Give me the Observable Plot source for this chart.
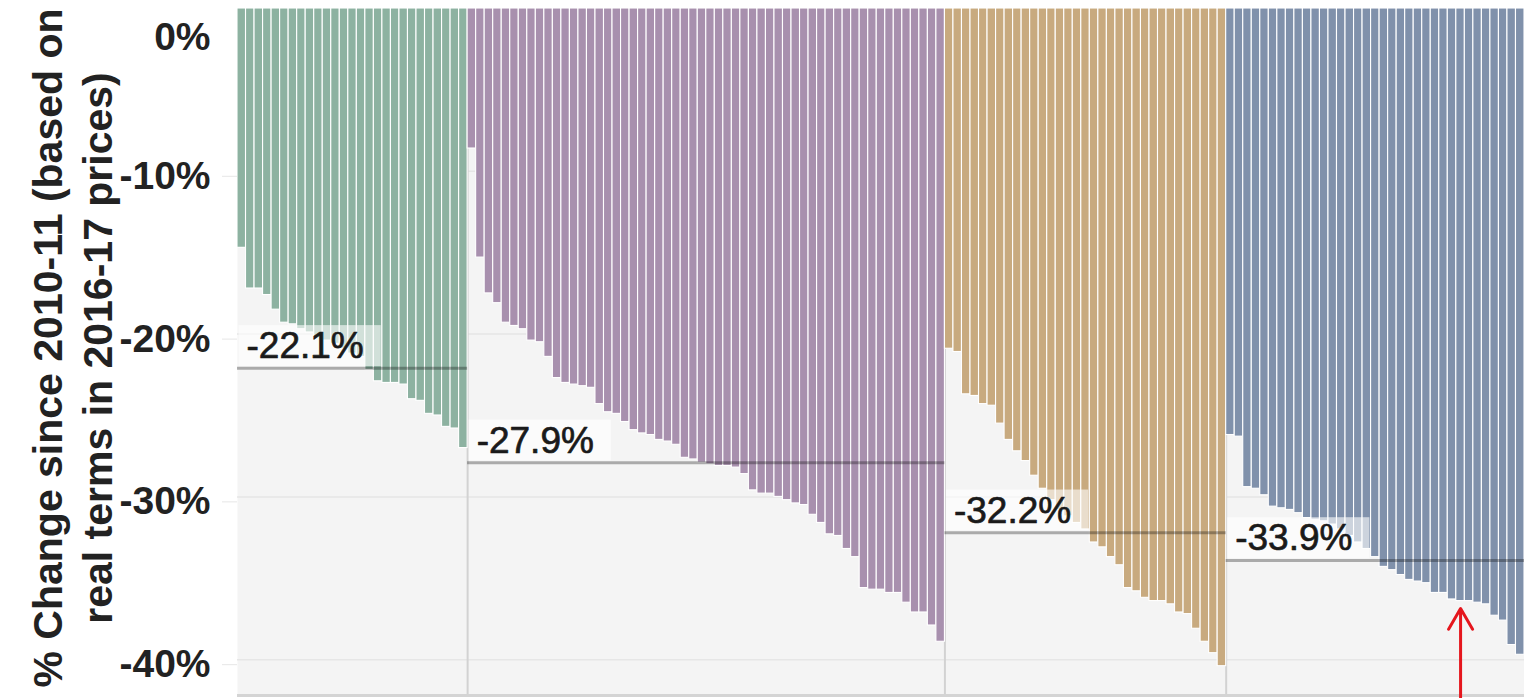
<!DOCTYPE html>
<html>
<head>
<meta charset="utf-8">
<script src="https://cdn.jsdelivr.net/npm/d3@7"></script>
<script src="https://cdn.jsdelivr.net/npm/@observablehq/plot@0.6"></script>
<style>
  html, body { margin: 0; padding: 0; background: #ffffff; overflow: hidden; }
  #chart svg { display: block; }
</style>
</head>
<body>
<div id="chart"></div>
<script>
// ---------------- data ----------------
const groupNames = ["Group 1", "Group 2", "Group 3", "Group 4"];
const groupColors = ["#8db2a1", "#a890ae", "#c8aa7f", "#8091ab"];
const groupAverages = [-22.1, -27.9, -32.2, -33.9];

const group1Values = [-14.7, -17.2, -17.2, -17.6, -18.5, -19.3, -19.4, -19.7, -19.9, -20.2, -20.4, -20.6, -20.9, -21.2,
  -21.4, -22.2, -22.9, -23.0, -23.0, -23.1, -24.0, -24.1, -24.9, -25.0, -25.7, -25.8, -27.0];
const group2Values = [-8.6, -15.3, -17.5, -18.1, -19.3, -19.5, -19.7, -20.4, -20.5, -21.4, -22.7, -23.0, -23.1, -23.2,
  -23.3, -24.3, -24.8, -24.9, -25.4, -25.9, -26.1, -26.2, -26.5, -26.6, -26.8, -27.6, -27.7, -27.9, -28.0, -28.1,
  -28.1, -28.2, -28.6, -29.6, -29.8, -29.8, -30.0, -30.2, -30.4, -30.5, -31.1, -31.6, -32.3, -32.4, -33.2, -33.7,
  -35.6, -35.7, -35.7, -35.9, -35.9, -36.5, -37.1, -37.1, -37.9, -38.9];
const group3Values = [-20.9, -21.1, -23.7, -23.8, -24.3, -24.4, -25.5, -26.5, -27.2, -27.8, -28.7, -29.5, -30.2, -30.8,
  -31.2, -31.6, -32.0, -32.8, -33.1, -33.7, -34.2, -35.6, -35.8, -36.2, -36.4, -36.4, -36.6, -37.1, -37.2, -38.1,
  -38.9, -39.6, -40.4];
const group4Values = [-26.2, -26.3, -29.4, -29.5, -29.9, -30.6, -30.7, -30.8, -31.0, -31.3, -31.4, -31.5, -31.7, -32.0,
  -32.4, -32.8, -33.2, -33.7, -34.3, -34.5, -34.8, -35.1, -35.2, -35.3, -35.9, -35.9, -36.3, -36.4, -36.4, -36.5,
  -36.6, -37.3, -37.6, -39.1, -39.7];

const yTicks = [0, -10, -20, -30, -40];
const yDomain = [-42.2, 0];
const yTitleLines = ["% Change since 2010-11 (based on", "real terms in 2016-17 prices)"];
const highlighted = {group: 3, index: 27};   // bar marked by the red arrow

// ---------------- build tables ----------------
const allValues = [group1Values, group2Values, group3Values, group4Values];
const bars = [];
const groups = [];
let cursor = 0;
allValues.forEach((vals, g) => {
  const start = cursor;
  vals.forEach((v, k) => bars.push({i: cursor + k, g, k, value: v}));
  cursor += vals.length;
  groups.push({g, name: groupNames[g], start, end: cursor, avg: groupAverages[g], color: groupColors[g]});
});
const total = cursor;
const boundaries = groups.slice(1).map(d => d.start);
const hl = bars.find(d => d.g === highlighted.group && d.k === highlighted.index);

const fmtPct = v => `${v}%`;
const fmtAvg = v => `${v.toFixed(1)}%`;
const FONT = "'Liberation Sans', Arial, Helvetica, sans-serif";

const plot = Plot.plot({
  width: 1524,
  height: 698,
  marginLeft: 237,
  marginRight: 0,
  marginTop: 8,
  marginBottom: 3,
  x: {domain: [0, total], axis: null},
  y: {domain: yDomain, axis: null, label: null},
  style: {fontFamily: FONT, background: "#ffffff", overflow: "visible"},
  marks: [
    Plot.frame({fill: "#f4f4f4", stroke: "none"}),
    Plot.ruleY(yTicks.filter(t => t !== 0), {stroke: "#e6e6e6", strokeWidth: 1.5}),
    Plot.ruleX(boundaries, {stroke: "#d2d2d2", strokeWidth: 2}),
    ...groups.map(G => Plot.rectY(bars.filter(d => d.g === G.g), {
      x1: "i", x2: d => d.i + 1, y: "value",
      fill: G.color, stroke: "#ffffff", strokeWidth: 1.1
    })),
    Plot.ruleY([yDomain[0]], {stroke: "#d4d4d4", strokeWidth: 3}),
    Plot.ruleY(groups, {y: "avg", x1: "start", x2: "end", stroke: "#000000", strokeOpacity: 0.3, strokeWidth: 3}),
    Plot.text(groups, {
      x: "start", y: "avg", text: d => fmtAvg(d.avg),
      textAnchor: "start", lineAnchor: "middle", dx: 9, dy: -22,
      fontSize: 37, fill: "#1a1a1a", stroke: "#1a1a1a", strokeWidth: 0.7
    }),
    Plot.axisY(yTicks.filter(t => t !== 0), {
      anchor: "left", tickFormat: fmtPct, tickSize: 15, tickPadding: 12, dy: 5,
      fontSize: 39, fontWeight: "bold", stroke: "#e6e6e6", fill: "#222222", label: null
    }),
    Plot.axisY(yTicks.filter(t => t === 0), {
      anchor: "left", tickFormat: fmtPct, tickSize: 0, tickPadding: 27, dy: 29,
      fontSize: 39, fontWeight: "bold", fill: "#222222", label: null
    }),
    Plot.text([yTitleLines.join("\n")], {
      text: d => d, frameAnchor: "left", rotate: -90, dx: -167, dy: -4,
      textAnchor: "middle", lineAnchor: "middle", lineHeight: 1.22,
      fontSize: 41, fontWeight: "bold", fill: "#222222"
    }),
    Plot.arrow([hl], {
      x: d => d.i + 0.5, y1: yDomain[0] - 0.3, y2: d => d.value - 0.45,
      stroke: "#e5161d", strokeWidth: 3, headLength: 12, headAngle: 60
    })
  ]
});

document.getElementById("chart").append(plot);

// semi-transparent white boxes behind the average labels
const ns = "http://www.w3.org/2000/svg";
plot.querySelectorAll("text").forEach(t => {
  if (!/^-\d+\.\d%$/.test(t.textContent)) return;
  const b = t.getBBox();
  const r = document.createElementNS(ns, "rect");
  r.setAttribute("x", b.x - 8);
  r.setAttribute("y", b.y);
  r.setAttribute("width", b.width + 25);
  r.setAttribute("height", b.height);
  r.setAttribute("fill", "#ffffff");
  r.setAttribute("fill-opacity", "0.6");
  r.setAttribute("stroke", "none");
  const tr = t.getAttribute("transform");
  if (tr) r.setAttribute("transform", tr);
  t.parentNode.insertBefore(r, t);
});
</script>
</body>
</html>
